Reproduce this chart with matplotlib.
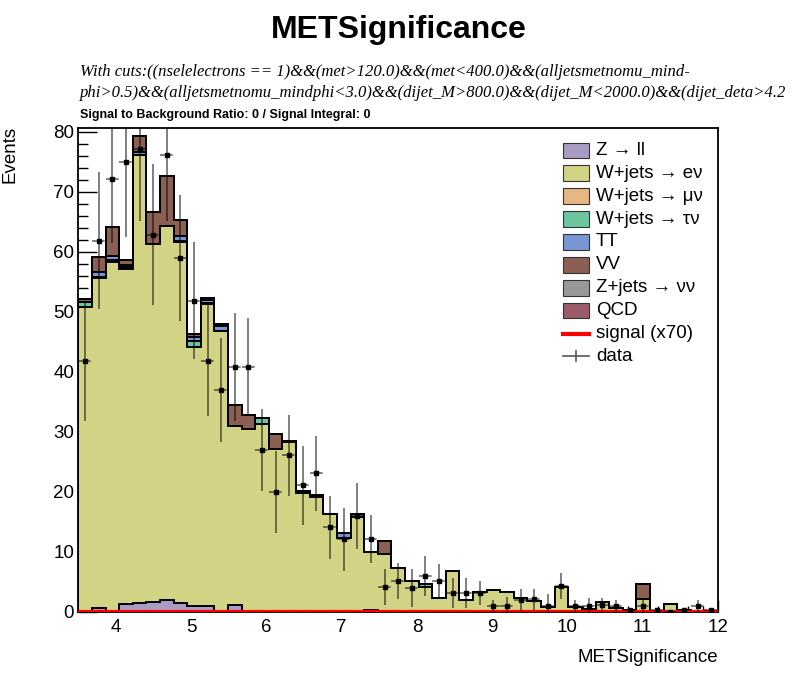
import numpy as np
import matplotlib
matplotlib.use('Agg')
import matplotlib.pyplot as plt
from matplotlib.patches import Rectangle
from matplotlib.lines import Line2D
from matplotlib.ticker import MultipleLocator

plt.rcParams['font.family'] = ['Liberation Sans', 'DejaVu Sans']

# 47 bins from 3.5 to 12
x_lo, x_hi, n_bins = 3.5, 12.0, 47
edges = np.linspace(x_lo, x_hi, n_bins + 1)
centers = 0.5 * (edges[:-1] + edges[1:])

# background components (per bin)
zll = [0, 0.6, 0.1, 1.3, 1.5, 1.6, 2.0, 1.5, 1.05, 0.95, 0.2, 1.1, 0, 0, 0, 0,
       0, 0.1, 0, 0, 0, 0.4, 0, 0, 0, 0, 0, 0, 0, 0, 0, 0,
       0, 0, 0, 0, 0, 0, 0, 0, 0, 0, 0, 0, 0, 0, 0]
wenu = [50.8, 55.0, 58.2, 55.8, 74.6, 59.8, 62.3, 60.1, 43.15, 50.45, 46.7, 29.9, 30.5, 31.4, 27.2, 28.3,
        19.8, 19.1, 16.3, 12.4, 15.9, 9.6, 9.7, 7.3, 5.15, 4.1, 2.3, 6.8, 2.0, 3.3, 3.7, 3.3,
        2.3, 1.9, 0.8, 4.1, 0.8, 0.5, 1.6, 0.7, 0.3, 2.2, 0.1, 1.3, 0.4, 0.1, 0]
wmunu = [0] * n_bins
wtaunu = [0.8, 0.2, 0.3, 0.4, 0.1, 0, 0, 0.3, 0.9, 0.1, 0, 0, 0, 0.9, 0, 0,
          0, 0, 0, 0, 0, 0, 0, 0, 0, 0.5, 0, 0, 0, 0, 0, 0,
          0, 0, 0, 0, 0, 0, 0, 0, 0, 0, 0, 0, 0, 0, 0]
tt = [0.1, 0.8, 0.7, 0.4, 0.5, 0, 0, 0.8, 0.8, 0.5, 0.8, 0, 0, 0, 0, 0.2,
      0.4, 0.3, 0, 0.7, 0.4, 0, 0, 0, 0, 0, 0, 0, 0, 0, 0, 0,
      0, 0, 0, 0, 0, 0, 0, 0, 0, 0, 0, 0, 0, 0, 0]
vv = [0.5, 2.6, 4.9, 0.7, 2.7, 5.2, 8.4, 2.7, 0.4, 0.4, 0.3, 3.5, 2.4, 0.1, 2.5, 0,
      0, 0, 0, 0, 0, 0, 2.2, 0, 0, 0, 0, 0, 0, 0, 0, 0,
      0, 0, 0, 0, 0, 0, 0, 0, 0, 2.4, 0, 0, 0, 0, 0]
znunu = [0] * n_bins
qcd = [0] * n_bins
signal = [0] * n_bins
signal_scale = 70

# data points and their errors
data = [41.9, 61.9, 72.1, 75.0, 77.1, 62.9, 76.1, 59.0, 51.9, 41.9, 37.0, 40.9, 40.9, 27.0, 20.0, 26.1,
        21.1, 23.1, 14.1, 12.1, 16.0, 12.1, 4.1, 5.15, 4.0, 6.0, 5.15, 3.1, 3.1, 3.1, 1.0, 1.05,
        2.0, 2.1, 1.05, 4.3, 1.0, 1.0, 1.1, 1.0, 0.3, 1.0, 0.3, 0, 0.3, 1.0, 0.3]
data_err = [10.0, 11.4, 10.6, 12.5, 12.0, 11.7, 11.0, 10.5, 9.7, 9.2, 8.7, 9.0, 8.1, 6.8, 6.8, 6.7,
            6.6, 6.2, 5.2, 5.2, 5.5, 4.0, 3.0, 3.0, 3.2, 3.4, 2.9, 2.5, 2.5, 2.0, 1.0, 1.5,
            1.9, 1.7, 2.0, 2.2, 1.0, 1.3, 1.2, 1.0, 0.3, 1.0, 0.3, 0, 0.3, 1.0, 0.3]

names = ['Z \u2192 ll', 'W+jets \u2192 e\u03bd', 'W+jets \u2192 \u03bc\u03bd', 'W+jets \u2192 \u03c4\u03bd',
         'TT', 'VV', 'Z+jets \u2192 \u03bd\u03bd', 'QCD']
comps = [zll, wenu, wmunu, wtaunu, tt, vv, znunu, qcd]
colors = ['#a99cc2', '#d3d386', '#e5b782', '#6dc5a0', '#7896d3', '#8c5f53', '#999999', '#9b5b6a']

W, H = 798, 675
fig = plt.figure(figsize=(W / 100, H / 100), dpi=100)
ax = fig.add_axes([78.3 / W, 1 - 612 / H, (718 - 78.3) / W, (612 - 127.7) / H])

# stack: draw cumulative from top down, ROOT style
cum = np.cumsum(np.array(comps, dtype=float), axis=0)
for i in range(len(comps) - 1, -1, -1):
    ax.stairs(cum[i], edges, baseline=0, fill=True, facecolor=colors[i], edgecolor='none', zorder=2)
    ax.stairs(cum[i], edges, baseline=0, fill=False, color='black', lw=1.4, zorder=2)

ax.stairs(np.array(signal) * signal_scale, edges, color='red', lw=3, zorder=3)

eb = ax.errorbar(centers, data, yerr=data_err, xerr=(edges[1] - edges[0]) / 2, fmt='s', ms=2.3,
                 mfc='black', mec='black', ecolor=(0, 0, 0, 0.5), elinewidth=1.4, capsize=0, zorder=4)
eb[2][0].set_linestyle((0, (2.5, 1.5)))

ax.set_xlim(x_lo, x_hi)
ax.set_ylim(0, 80.7)
ax.xaxis.set_major_locator(MultipleLocator(1))
ax.xaxis.set_minor_locator(MultipleLocator(0.2))
ax.yaxis.set_major_locator(MultipleLocator(10))
ax.yaxis.set_minor_locator(MultipleLocator(2))
ax.tick_params(axis='both', which='both', direction='in', top=False, right=False, width=1, labelsize=13.5)
ax.tick_params(axis='y', which='major', length=14, pad=3)
ax.tick_params(axis='y', which='minor', length=7)
ax.tick_params(axis='x', which='major', length=9, pad=5)
ax.tick_params(axis='x', which='minor', length=4.5)
ax.set_xticks([4, 5, 6, 7, 8, 9, 10, 11, 12])
for s in ax.spines.values():
    s.set_linewidth(1.3)
ax.set_zorder(1)

def fx(x):
    return x / W

def fy(y):
    return 1 - y / H

fig.text(fx(399), fy(30), 'METSignificance', ha='center', va='center', fontsize=23, fontweight='bold')
cut1 = 'With cuts:((nselelectrons == 1)&&(met>120.0)&&(met<400.0)&&(alljetsmetnomu_mind-'
cut2 = 'phi>0.5)&&(alljetsmetnomu_mindphi<3.0)&&(dijet_M>800.0)&&(dijet_M<2000.0)&&(dijet_deta>4.2'
fig.text(fx(80), fy(72), cut1, ha='left', va='center', fontsize=12.0, style='italic', family='Liberation Serif')
fig.text(fx(80), fy(93), cut2, ha='left', va='center', fontsize=12.0, style='italic', family='Liberation Serif')
fig.text(fx(80), fy(115), 'Signal to Background Ratio: 0 / Signal Integral: 0', ha='left', va='center',
         fontsize=9.0, fontweight='bold')
fig.text(fx(10.5), fy(126), 'Events', rotation=90, ha='center', va='top', fontsize=13.5)
fig.text(fx(718), fy(658), 'METSignificance', ha='right', va='center', fontsize=13.5)

# legend
row0, dy = 150.3, 22.9
bx0, bw, bh = 562.7, 26.6, 15.6
for i, name in enumerate(names):
    yc = row0 + i * dy
    fig.add_artist(Rectangle((fx(bx0), fy(yc + bh / 2)), bw / W, bh / H, transform=fig.transFigure,
                             facecolor=colors[i], edgecolor='#333333', lw=0.8, zorder=10))
    fig.text(fx(596), fy(yc), name, ha='left', va='center', fontsize=13.5, zorder=10)
yc = row0 + len(names) * dy
fig.add_artist(Line2D([fx(bx0), fx(bx0 + bw)], [fy(yc), fy(yc)], transform=fig.transFigure,
                      color='red', lw=3, zorder=10))
fig.text(fx(596), fy(yc), 'signal (x%d)' % signal_scale, ha='left', va='center', fontsize=13.5, zorder=10)
yc = yc + dy
fig.add_artist(Line2D([fx(bx0), fx(bx0 + bw)], [fy(yc), fy(yc)], transform=fig.transFigure,
                      color='#555555', lw=1.2, zorder=10))
fig.add_artist(Line2D([fx(bx0 + bw / 2)] * 2, [fy(yc - 5), fy(yc + 5)], transform=fig.transFigure,
                      color='#555555', lw=1.2, zorder=10))
fig.text(fx(596), fy(yc), 'data', ha='left', va='center', fontsize=13.5, zorder=10)

fig.savefig('out.png', dpi=100)
